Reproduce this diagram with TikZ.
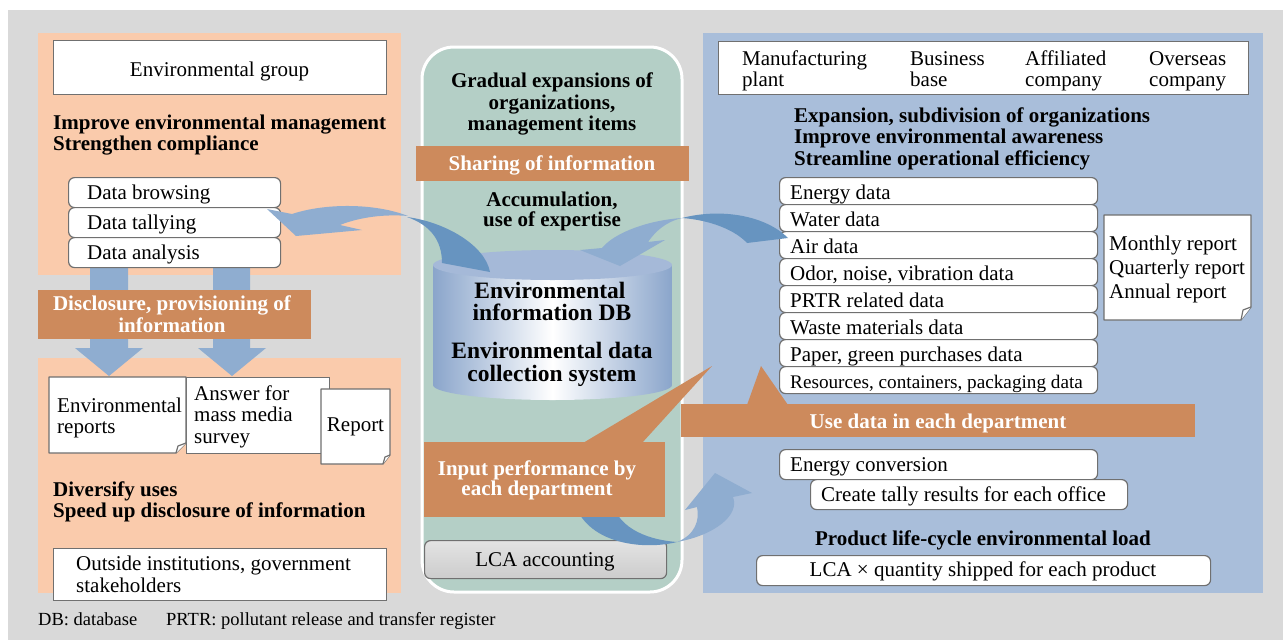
\documentclass[tikz,border=0pt]{standalone}
\usepackage{fontspec}
\setmainfont{Liberation Serif}
\definecolor{bg}{HTML}{D9D9D9}
\definecolor{peach}{HTML}{FACBAC}
\definecolor{banner}{HTML}{CD8A5C}
\definecolor{mint}{HTML}{B4CFC6}
\definecolor{panelblue}{HTML}{A9BEDA}
\definecolor{darkarrow}{HTML}{6794C0}
\definecolor{lightarrow}{HTML}{8FADD0}
\definecolor{cylside}{HTML}{8AA5CB}
\definecolor{cyltop}{HTML}{A5B9D8}
\definecolor{edge}{HTML}{707070}
\begin{document}
\begin{tikzpicture}[x=1pt,y=-1pt,
  txt/.style={inner sep=0pt, font=\fontsize{21}{22}\selectfont},
  lb/.style={txt, anchor=base west},
  cb/.style={txt, anchor=base},
  blb/.style={lb, font=\fontsize{21}{22}\selectfont\bfseries},
  bcb/.style={cb, font=\fontsize{21}{22}\selectfont\bfseries},
  wcb/.style={bcb, text=white},
  cyl/.style={inner sep=0pt, anchor=base, font=\fontsize{23.5}{25}\selectfont\bfseries},
  foot/.style={inner sep=0pt, anchor=base west, font=\fontsize{18.5}{20}\selectfont},
  box/.style={draw=edge, fill=white, line width=1.2pt, inner sep=0pt, anchor=north west},
  rbox/.style={box, rounded corners=6pt},
  docst/.style={draw=edge, fill=white, line width=1.2pt, line join=round},
  bannerbox/.style={fill=banner, inner sep=0pt, anchor=north west},
]
\useasboundingbox (0,0) rectangle (1283,640);
\fill[white] (0,0) rectangle (1283,640);
\fill[bg] (8,10) rectangle (1283,640);

% panels
\fill[peach] (38,33) rectangle (401,275);
\fill[peach] (38,358) rectangle (401,593);
\draw[white, line width=3pt, fill=mint, rounded corners=32pt] (422,47) rectangle (682,592);
\fill[panelblue] (703,33) rectangle (1263,593);

% down block arrows (left)
\fill[lightarrow] (90,266) rectangle (128,349) (213,266) rectangle (250,349);
\fill[lightarrow] (75,348) -- (143,348) -- (109,376) -- cycle;
\fill[lightarrow] (198,348) -- (266,348) -- (232,376) -- cycle;

% disclosure banner
\node[bannerbox, minimum width=273pt, minimum height=49pt] (disc) at (38,290) {};
\node[wcb] (disc1) at (172,310) {Disclosure, provisioning of};
\node[wcb] (disc2) at (172,332) {information};

% left top panel
\node[box, minimum width=333pt, minimum height=54pt] (eg) at (53,40) {};
\node[cb] (egt) at (219.5,76) {Environmental group};
\node[blb] (im1) at (53,129) {Improve environmental management};
\node[blb] (im2) at (53,150.5) {Strengthen compliance};
\node[rbox, minimum width=212pt, minimum height=30pt] (d1) at (68,177) {};
\node[rbox, minimum width=212pt, minimum height=30pt] (d2) at (68,207) {};
\node[rbox, minimum width=212pt, minimum height=30pt] (d3) at (68,237) {};
\node[lb] (d1t) at (87,199.3) {Data browsing};
\node[lb] (d2t) at (87,229.3) {Data tallying};
\node[lb] (d3t) at (87,259.3) {Data analysis};

% left bottom panel
\node[box, minimum width=143pt, minimum height=76pt] (ans) at (186,377) {};
\draw[docst] (49,377) -- (186,377) -- (186,443) -- (176,453) -- (49,453) -- cycle;
\draw[docst] (176,453) -- (178,446) -- (186,443);
\draw[docst] (321,389) -- (390,389) -- (390,455) -- (383,464) -- (321,464) -- cycle;
\draw[docst] (383,464) -- (385,457) -- (390,455);
\node[lb] (er1) at (57,412.3) {Environmental};
\node[lb] (er2) at (57,433.3) {reports};
\node[lb] (an1) at (194,400) {Answer for};
\node[lb] (an2) at (194,421.7) {mass media};
\node[lb] (an3) at (194,443.3) {survey};
\node[cb] (rep) at (355.5,431.7) {Report};
\node[blb] (dv1) at (53,496) {Diversify uses};
\node[blb] (dv2) at (53,517.3) {Speed up disclosure of information};
\node[box, minimum width=333pt, minimum height=52pt] (out) at (53,548) {};
\node[lb] (out1) at (76,570.7) {Outside institutions, government};
\node[lb] (out2) at (76,592.7) {stakeholders};
\node[foot] (f1) at (38,625) {DB: database};
\node[foot] (f2) at (166,625) {PRTR: pollutant release and transfer register};

% center panel
\node[bcb] (g1) at (552,87.3) {Gradual expansions of};
\node[bcb] (g2) at (552,109.3) {organizations,};
\node[bcb] (g3) at (552,130) {management items};
\node[bannerbox, minimum width=273pt, minimum height=35pt] (share) at (416,146) {};
\node[wcb] (sharet) at (552,170) {Sharing of information};
\node[bcb] (ac1) at (552,206.7) {Accumulation,};
\node[bcb] (ac2) at (552,226.7) {use of expertise};

% cylinder
\shade[left color=cylside, right color=cylside, middle color=white]
  (433,265) -- (433,385) arc[start angle=180, end angle=360, x radius=119.5pt, y radius=15pt] -- (672,265) -- cycle;
\fill[cyltop] (552.5,265) ellipse [x radius=119.5pt, y radius=15pt];
\node[cyl] (c1) at (550,298.3) {Environmental};
\node[cyl] (c2) at (552,320.7) {information DB};
\node[cyl] (c3) at (552,358.3) {Environmental data};
\node[cyl] (c4) at (552,381.7) {collection system};

% LCA accounting
\node[draw=edge, line width=1.2pt, inner sep=0pt, anchor=north west, rounded corners=6pt,
  top color=gray!22, middle color=white, bottom color=gray!40,
  minimum width=242pt, minimum height=38pt] (lca) at (424,540) {};
\node[cb] (lcat) at (545,566) {LCA accounting};

% arrow 3 (input -> right panel)
\fill[darkarrow] (575,505) .. controls (590,545) and (645,550) .. (677,542)
  .. controls (650,540) and (620,530) .. (612,503) -- cycle;
\fill[lightarrow] (677,542) .. controls (715,535) and (740,515) .. (733,497)
  -- (752,493) -- (715,473) -- (685,510) -- (697,507)
  .. controls (700,520) and (695,535) .. (677,542) -- cycle;

% input banner with callout
\node[bannerbox, minimum width=241pt, minimum height=75pt] (inp) at (424,442) {};
\fill[banner] (583,443) -- (712,366) -- (642,443) -- cycle;
\node[wcb] (inp1) at (537,475) {Input performance by};
\node[wcb] (inp2) at (537,495.7) {each department};

% right panel
\node[box, minimum width=530pt, minimum height=53pt] (orgs) at (718,41) {};
\node[lb] (o1a) at (742,65) {Manufacturing};
\node[lb] (o1b) at (742,86) {plant};
\node[lb] (o2a) at (910,65) {Business};
\node[lb] (o2b) at (910,86) {base};
\node[lb] (o3a) at (1025,65) {Affiliated};
\node[lb] (o3b) at (1025,86) {company};
\node[lb] (o4a) at (1149,65) {Overseas};
\node[lb] (o4b) at (1149,86) {company};
\node[blb] (ex1) at (794,122) {Expansion, subdivision of organizations};
\node[blb] (ex2) at (794,143.5) {Improve environmental awareness};
\node[blb] (ex3) at (794,165) {Streamline operational efficiency};

\node[rbox, minimum width=318pt, minimum height=27pt] (r1) at (779,177) {};
\node[rbox, minimum width=318pt, minimum height=27pt] (r2) at (779,204) {};
\node[rbox, minimum width=318pt, minimum height=27pt] (r3) at (779,231) {};
\node[rbox, minimum width=318pt, minimum height=27pt] (r4) at (779,258) {};
\node[rbox, minimum width=318pt, minimum height=27pt] (r5) at (779,285) {};
\node[rbox, minimum width=318pt, minimum height=27pt] (r6) at (779,312) {};
\node[rbox, minimum width=318pt, minimum height=27pt] (r7) at (779,339) {};
\node[rbox, minimum width=318pt, minimum height=27pt] (r8) at (779,366) {};
\node[lb] (r1t) at (790,199) {Energy data};
\node[lb] (r2t) at (790,226) {Water data};
\node[lb] (r3t) at (790,253) {Air data};
\node[lb] (r4t) at (790,280) {Odor, noise, vibration data};
\node[lb] (r5t) at (790,307) {PRTR related data};
\node[lb] (r6t) at (790,334) {Waste materials data};
\node[lb] (r7t) at (790,361) {Paper, green purchases data};
\node[lb, font=\fontsize{19.2}{20}\selectfont] (r8t) at (790,388) {Resources, containers, packaging data};

\draw[docst] (1104,215) -- (1251,215) -- (1251,307) -- (1241,320) -- (1104,320) -- cycle;
\draw[docst] (1241,320) -- (1243,310) -- (1251,307);
\node[lb] (m1) at (1109,250) {Monthly report};
\node[lb] (m2) at (1109,274) {Quarterly report};
\node[lb] (m3) at (1109,298) {Annual report};

% use data banner with callout
\node[bannerbox, minimum width=514pt, minimum height=33pt] (use) at (681,404) {};
\fill[banner] (747,405) -- (761,366) -- (788,405) -- cycle;
\node[wcb] (uset) at (938,428.3) {Use data in each department};

\node[rbox, minimum width=318pt, minimum height=30pt] (ec) at (779,449) {};
\node[lb] (ect) at (790,471) {Energy conversion};
\node[rbox, minimum width=317pt, minimum height=30pt] (ct) at (810,479) {};
\node[lb] (ctt) at (821,501.7) {Create tally results for each office};
\node[bcb] (pl) at (983,545.7) {Product life-cycle environmental load};
\node[rbox, minimum width=454pt, minimum height=30pt] (lq) at (756,555) {};
\node[cb] (lqt) at (983,576.7) {LCA × quantity shipped for each product};

% arrow 1 (cylinder -> data tallying)
\fill[darkarrow] (407,217) .. controls (445,222) and (485,245) .. (490,272)
  -- (442,263) .. controls (442,240) and (430,225) .. (407,217) -- cycle;
\fill[lightarrow] (408,216) .. controls (375,203) and (325,203) .. (292,214)
  -- (267,209) -- (296,236) -- (362,230) -- (340,225)
  .. controls (360,217) and (385,214) .. (408,216) -- cycle;

% arrow 2 (air data -> cylinder)
\fill[darkarrow] (682,218) .. controls (720,208) and (765,215) .. (788,238)
  -- (747,243) .. controls (735,230) and (710,220) .. (682,218) -- cycle;
\fill[lightarrow] (682,218) .. controls (650,220) and (615,232) .. (602,248)
  -- (580,250) -- (620,266) -- (665,240) -- (648,242)
  .. controls (655,232) and (665,222) .. (682,218) -- cycle;
\end{tikzpicture}
\end{document}
